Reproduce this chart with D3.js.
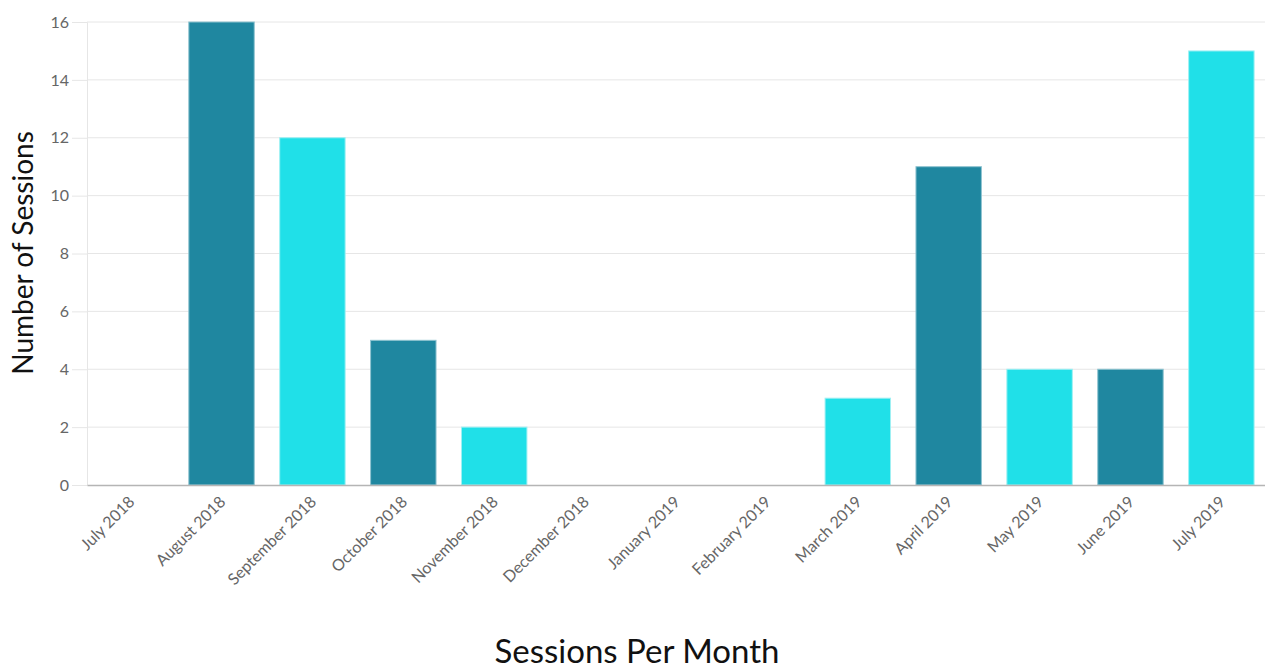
<!DOCTYPE html>
<html>
<head>
<meta charset="utf-8">
<script src="https://cdn.jsdelivr.net/npm/d3@7"></script>
<style>
  html, body { margin: 0; padding: 0; background: #fff; }
  svg { display: block; }
</style>
</head>
<body>
<svg id="chart" width="1265" height="669"></svg>
<script>
const months = ["July 2018","August 2018","September 2018","October 2018","November 2018","December 2018","January 2019","February 2019","March 2019","April 2019","May 2019","June 2019","July 2019"];
const sessions = [0,16,12,5,2,0,0,0,3,11,4,4,15];
const yTicks = [0,2,4,6,8,10,12,14,16];
const barColors = ["#20e0e8", "#1f87a0"];

const svg = d3.select("#chart");
const mLeft = 87, mRight = 1265, mTop = 22, mBottom = 485;

const x = d3.scaleBand().domain(months).range([mLeft, mRight]).paddingInner(0.28).paddingOuter(0.12);
const y = d3.scaleLinear().domain([0, 16]).range([mBottom, mTop]);

// gridlines
svg.append("g").selectAll("line").data(yTicks.filter(d => d > 0)).join("line")
  .attr("x1", mLeft).attr("x2", mRight)
  .attr("y1", d => y(d)).attr("y2", d => y(d))
  .attr("stroke", "#e6e6e6").attr("stroke-width", 1);

// y axis
const yAxis = svg.append("g").attr("transform", `translate(${mLeft},0)`)
  .call(d3.axisLeft(y).tickValues(yTicks).tickSize(15).tickPadding(3));
yAxis.select(".domain").attr("stroke", "#e6e6e6");
yAxis.selectAll(".tick line").attr("stroke", "#e6e6e6");
yAxis.selectAll(".tick text").attr("fill", "#666").style("font-family", "Lato, 'Noto Sans', sans-serif").style("font-size", "16px");

// bars
svg.append("g").selectAll("rect").data(months).join("rect")
  .attr("x", d => x(d))
  .attr("width", x.bandwidth())
  .attr("y", (d, i) => y(sessions[i]))
  .attr("height", (d, i) => mBottom - y(sessions[i]))
  .attr("fill", (d, i) => barColors[i % 2])
  .attr("stroke", (d, i) => i % 2 ? "#8fc3d0" : "#9ff0f3")
  .attr("stroke-width", 1);

// x axis
const xAxis = svg.append("g").attr("transform", `translate(0,${mBottom})`)
  .call(d3.axisBottom(x).tickSize(0).tickPadding(0));
xAxis.select(".domain").attr("stroke", "#b5b5b5").attr("stroke-width", 1.5);
xAxis.selectAll(".tick text")
  .attr("fill", "#666")
  .style("font-family", "Lato, 'Noto Sans', sans-serif").style("font-size", "16px")
  .attr("text-anchor", "end")
  .attr("x", 0).attr("y", 0)
  .attr("dx", 0).attr("dy", "0.35em")
  .attr("transform", "translate(1,14) rotate(-45)");

// axis titles
svg.append("text")
  .attr("transform", `translate(33,253) rotate(-90)`)
  .attr("text-anchor", "middle")
  .style("font-family", "Lato, 'Noto Sans', sans-serif").style("font-size", "28px")
  .attr("fill", "#111")
  .text("Number of Sessions");

svg.append("text")
  .attr("x", 637).attr("y", 663)
  .attr("text-anchor", "middle")
  .style("font-family", "Lato, 'Noto Sans', sans-serif").style("font-size", "33px")
  .attr("fill", "#111")
  .text("Sessions Per Month");
</script>
</body>
</html>
